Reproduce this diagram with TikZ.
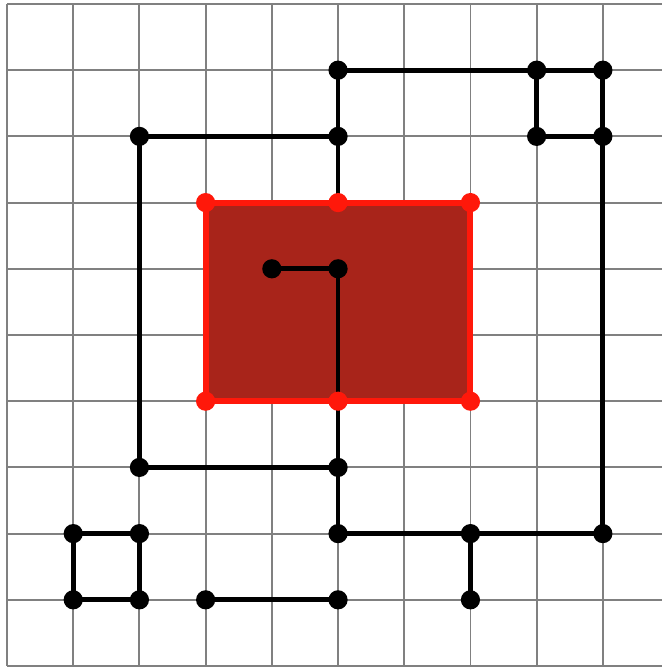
\documentclass[tikz,border=0pt]{standalone}
\definecolor{gridgray}{RGB}{128,128,128}
\definecolor{boxfill}{RGB}{168,36,26}
\definecolor{boxred}{RGB}{255,24,10}
\begin{document}
\begin{tikzpicture}[
  x=1cm, y=-1cm,
  gridline/.style={draw=gridgray, line width=0.8pt},
  wire/.style={draw=black, line width=2.1pt},
  dot/.style={circle, fill=black, inner sep=0pt, minimum size=0.29cm},
  reddot/.style={circle, fill=boxred, inner sep=0pt, minimum size=0.29cm},
  boxborder/.style={draw=boxred, line width=2.6pt}
]
\useasboundingbox[fill=white] (-0.106,-0.06) rectangle (9.879,10.045);
% grid
\foreach \i in {0,...,10} {
  \draw[gridline] (\i,0) -- (\i,10);
  \draw[gridline] (0,\i) -- (10,\i);
}
% red box
\coordinate (r33) at (3,3);
\coordinate (r53) at (5,3);
\coordinate (r73) at (7,3);
\coordinate (r36) at (3,6);
\coordinate (r56) at (5,6);
\coordinate (r76) at (7,6);
\fill[boxfill] (r33) rectangle (r76);
% black points
\foreach \c/\r in {5/1,8/1,9/1,8/2,9/2,2/2,5/2,4/4,5/4,2/7,5/7,5/8,7/8,9/8,1/8,2/8,1/9,2/9,3/9,5/9,7/9} {
  \coordinate (p\c\r) at (\c,\r);
}
% black wires
\draw[wire] (p51) -- (p81) -- (p91);
\draw[wire] (p81) -- (p82) -- (p92);
\draw[wire] (p91) -- (p92) -- (p98);
\draw[wire] (p98) -- (p78) -- (p58);
\draw[wire] (p78) -- (p79);
\draw[wire] (p51) -- (p52) -- (r53);
\draw[wire] (p52) -- (p22) -- (p27) -- (p57);
\draw[wire] (r56) -- (p57) -- (p58);
\draw[wire] (p44) -- (p54) -- (r56);
\draw[wire] (p18) -- (p28) -- (p29) -- (p19) -- cycle;
\draw[wire] (p39) -- (p59);
% red border
\draw[boxborder] (r33) rectangle (r76);
% dots
\foreach \n in {p51,p81,p91,p82,p92,p22,p52,p44,p54,p27,p57,p58,p78,p98,p18,p28,p19,p29,p39,p59,p79} {
  \node[dot] at (\n) {};
}
\foreach \n in {r33,r53,r73,r36,r56,r76} {
  \node[reddot] at (\n) {};
}
\end{tikzpicture}
\end{document}
